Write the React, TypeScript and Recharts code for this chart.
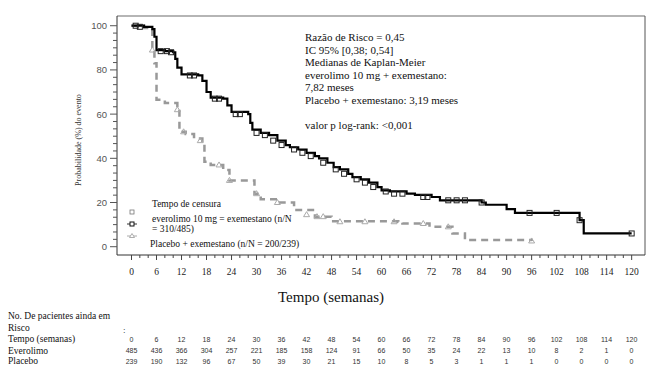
import React from 'react'
import {
  ComposedChart,
  Line,
  Scatter,
  XAxis,
  YAxis,
  ReferenceLine
} from 'recharts'

// Kaplan-Meier steps (weeks, % without event)
const everoWeeks = [0, 3, 5, 5.5, 6, 8, 10, 10.5, 11, 12, 16, 17, 18, 19, 22, 23, 24, 28, 28.5, 29, 31, 33, 35, 37, 38, 40, 42, 44, 45, 47, 48.5, 50, 52, 53, 55, 57, 59, 60, 62, 66, 68, 72, 74, 84, 85, 90, 92, 107, 107.5, 108.5, 120]
const everoSurv = [100, 99.5, 98.5, 95, 89, 88.5, 88, 85, 81, 78, 77.5, 75, 70, 67.5, 67, 64, 61, 60, 56, 53, 51.5, 50.5, 48, 46, 45, 44, 42.5, 41, 40, 38, 36, 35, 33, 31.5, 30.5, 29, 27, 25.5, 25, 24, 23.5, 22.5, 21, 20, 19, 17, 15.3, 15.3, 12, 6, 6]

const placeboWeeks = [0, 3, 4.5, 5, 5.5, 6, 8, 11, 11.5, 13, 15, 17, 17.5, 19, 22, 23.5, 29.5, 31, 35, 39, 44, 48, 64, 65, 71.5, 77, 80, 96]
const placeboSurv = [100, 99, 98, 89, 83, 66.5, 65, 62, 52, 51, 49, 48, 38.5, 37, 34.7, 30, 24, 21.5, 20, 16.6, 13.6, 11.5, 11.3, 10.5, 9, 6, 3, 2.6]

// censoring marks
const everoCensorWeeks = [1, 2, 7, 8.5, 9.5, 14, 15, 20, 21, 25, 26, 30, 32, 34, 36, 39, 41, 43, 46, 49, 51, 54, 56, 58, 61, 63, 65, 70, 71, 76, 78, 80, 84, 95.5, 102, 107.5, 120]
const everoCensorSurv = [100, 99.5, 88.5, 88.5, 88, 77.5, 77.5, 67, 67, 60, 60, 51.5, 50.5, 48, 46, 44, 42.5, 41, 38, 35, 33, 30.5, 29, 27, 25, 24, 24, 22.5, 22.5, 21, 21, 21, 20, 15.3, 15.3, 12, 6]
const placeboCensorWeeks = [5, 11, 12.5, 16.5, 21, 23.5, 30, 35, 42, 44.5, 46, 50, 56, 63, 70, 76, 96]
const placeboCensorSurv = [89, 62, 52, 48, 37, 30, 24, 20, 14.5, 13.6, 13.6, 11.3, 11.3, 11.3, 10.5, 9, 2.6]

// at-risk table
const riskWeeks = [0, 6, 12, 18, 24, 30, 36, 42, 48, 54, 60, 66, 72, 78, 84, 90, 96, 102, 108, 114, 120]
const riskEvero = [485, 436, 366, 304, 257, 221, 185, 158, 124, 91, 66, 50, 35, 24, 22, 13, 10, 8, 2, 1, 0]
const riskPlacebo = [239, 190, 132, 96, 67, 50, 39, 30, 21, 15, 10, 8, 5, 3, 1, 1, 1, 0, 0, 0, 0]

const infoLines = [
  'Razão de Risco = 0,45',
  'IC 95% [0,38; 0,54]',
  'Medianas de Kaplan-Meier',
  'everolimo 10 mg + exemestano:',
  '7,82 meses',
  'Placebo + exemestano: 3,19 meses',
  '',
  'valor p log-rank: <0,001'
]

const xTicks = Array.from({ length: 61 }, (_, i) => i * 2)
const yTicks = Array.from({ length: 31 }, (_, i) => (i * 20) / 6)

const toRows = (t: number[], s: number[]) => t.map((v, i) => ({ t: v, s: s[i] }))
const everoData = toRows(everoWeeks, everoSurv)
const placeboData = toRows(placeboWeeks, placeboSurv)
const everoCensor = toRows(everoCensorWeeks, everoCensorSurv)
const placeboCensor = toRows(placeboCensorWeeks, placeboCensorSurv)

const X0 = 131.5
const PX_WEEK = 4.167
const serif = '"Times New Roman", "Liberation Serif", serif'
const sans = '"Liberation Sans", Arial, sans-serif'

const XTick = (props: any) => {
  const { x, y, payload } = props
  const major = payload.value % 6 === 0
  return (
    <g>
      <line x1={x} x2={x} y1={y} y2={y + (major ? 5 : 3)} stroke="#444" />
      {major && (
        <text x={x} y={y + 20} textAnchor="middle" fontSize={9.5} fontFamily={serif} fill="#222">
          {payload.value}
        </text>
      )}
    </g>
  )
}

const YTick = (props: any) => {
  const { x, y, payload } = props
  const v = Math.round(payload.value * 100) / 100
  const major = Math.abs(v % 20) < 0.01
  return (
    <g>
      <line x1={x - (major ? 7 : 4)} x2={x} y1={y} y2={y} stroke="#555" />
      {major && (
        <text x={x - 10} y={y + 3.5} textAnchor="end" fontSize={9.5} fontFamily={sans} fill="#555">
          {v}
        </text>
      )}
    </g>
  )
}

const Square = (props: any) => {
  const { cx, cy } = props
  return <rect x={cx - 2.5} y={cy - 2.5} width={5} height={5} fill="none" stroke="#222" strokeWidth={1} />
}

const Triangle = (props: any) => {
  const { cx, cy } = props
  return (
    <path d={`M${cx},${cy - 3} L${cx + 3},${cy + 2} L${cx - 3},${cy + 2} Z`} fill="none" stroke="#aaa" strokeWidth={1} />
  )
}

export default function App() {
  return (
    <div style={{ position: 'absolute', left: 0, top: 0, width: 670, height: 376, background: '#fff', fontFamily: serif, color: '#111' }}>
      <ComposedChart width={670} height={300} margin={{ top: 16, right: 25, bottom: 15, left: 77 }}>
        <XAxis
          type="number"
          dataKey="t"
          domain={[-3.48, 123.2]}
          allowDataOverflow
          ticks={xTicks}
          interval={0}
          tick={<XTick />}
          tickLine={false}
          tickSize={0}
          tickMargin={0}
          height={30}
          axisLine={{ stroke: '#333' }}
        />
        <YAxis
          type="number"
          dataKey="s"
          domain={[-3.75, 104.4]}
          allowDataOverflow
          ticks={yTicks}
          interval={0}
          tick={<YTick />}
          tickLine={false}
          tickSize={0}
          tickMargin={0}
          width={40}
          axisLine={{ stroke: '#333' }}
        />
        <ReferenceLine y={104.4} stroke="#b5b5b5" strokeWidth={2} />
        <ReferenceLine x={123.2} stroke="#555" strokeWidth={1} />
        <Line
          data={placeboData}
          dataKey="s"
          type="stepAfter"
          stroke="#999"
          strokeWidth={2.5}
          strokeDasharray="7 5"
          dot={false}
          isAnimationActive={false}
        />
        <Line
          data={everoData}
          dataKey="s"
          type="stepAfter"
          stroke="#000"
          strokeWidth={2.2}
          dot={false}
          isAnimationActive={false}
        />
        <Scatter data={placeboCensor} dataKey="s" shape={<Triangle />} isAnimationActive={false} />
        <Scatter data={everoCensor} dataKey="s" shape={<Square />} isAnimationActive={false} />
      </ComposedChart>

      <div style={{ position: 'absolute', left: 78, top: 140, transform: 'translate(-50%, -50%) rotate(-90deg)', fontSize: 8, whiteSpace: 'nowrap', color: '#333' }}>
        Probabilidade (%) do evento
      </div>

      <div style={{ position: 'absolute', left: 305, top: 31, fontSize: 11, lineHeight: '12.6px' }}>
        {infoLines.map((l, i) => (
          <div key={i} style={{ height: 12.6, whiteSpace: 'nowrap' }}>{l}</div>
        ))}
      </div>

      <svg style={{ position: 'absolute', left: 0, top: 0 }} width={670} height={300}>
        <rect x={130} y={210} width={4} height={4} fill="none" stroke="#777" strokeWidth={0.8} />
        <line x1={127} x2={137} y1={224} y2={224} stroke="#333" strokeWidth={1} />
        <rect x={130} y={222} width={4} height={4} fill="#fff" stroke="#111" strokeWidth={1} />
        <line x1={127} x2={137} y1={236} y2={236} stroke="#aaa" strokeWidth={1} />
        <path d="M132,233.5 L134.5,237.5 L129.5,237.5 Z" fill="#fff" stroke="#999" strokeWidth={0.8} />
      </svg>

      <div style={{ position: 'absolute', left: 152, top: 199, fontSize: 9.5, lineHeight: '10px', whiteSpace: 'nowrap' }}>Tempo de censura</div>
      <div style={{ position: 'absolute', left: 152, top: 215, fontSize: 9.5, lineHeight: '9.5px', whiteSpace: 'nowrap' }}>
        everolimo 10 mg = exemestano (n/N
        <br />= 310/485)
      </div>
      <div style={{ position: 'absolute', left: 150, top: 239, fontSize: 9.5, lineHeight: '10px', whiteSpace: 'nowrap' }}>Placebo + exemestano (n/N = 200/239)</div>

      <div style={{ position: 'absolute', left: 331, top: 289, transform: 'translateX(-50%)', fontSize: 15, whiteSpace: 'nowrap' }}>Tempo (semanas)</div>

      <div style={{ position: 'absolute', left: 8, top: 311, fontSize: 9.5, lineHeight: '11.5px', whiteSpace: 'nowrap' }}>
        <div>No. De pacientes ainda em</div>
        <div>Risco</div>
        <div>Tempo (semanas)</div>
        <div style={{ lineHeight: '10.5px' }}>Everolimo</div>
        <div style={{ lineHeight: '11px' }}>Placebo</div>
      </div>
      <div style={{ position: 'absolute', left: 123, top: 325, fontSize: 9 }}>:</div>
      {[riskWeeks, riskEvero, riskPlacebo].map((row, r) =>
        row.map((v, i) => (
          <div
            key={`${r}-${i}`}
            style={{
              position: 'absolute',
              left: X0 + riskWeeks[i] * PX_WEEK,
              top: 336 + r * 11,
              transform: 'translateX(-50%)',
              fontSize: 7,
              fontFamily: sans,
              color: '#333',
              whiteSpace: 'nowrap'
            }}
          >
            {v}
          </div>
        ))
      )}
    </div>
  )
}
